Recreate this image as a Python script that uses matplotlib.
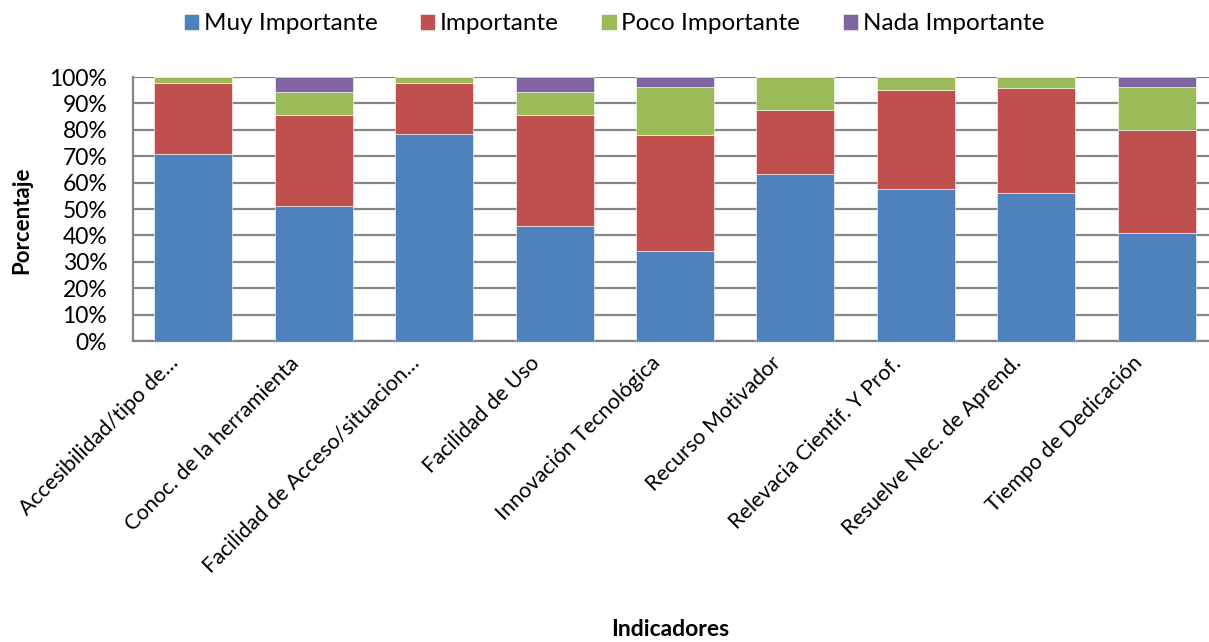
import matplotlib
matplotlib.use("Agg")
import matplotlib.pyplot as plt
import matplotlib.transforms as mtransforms
import numpy as np
from matplotlib.ticker import PercentFormatter

plt.rcParams['font.family'] = ['Lato', 'DejaVu Sans']

categories = [
    "Accesibilidad/tipo de…",
    "Conoc. de la herramienta",
    "Facilidad de Acceso/situacion…",
    "Facilidad de Uso",
    "Innovación Tecnológica",
    "Recurso Motivador",
    "Relevacia Cientif. Y Prof.",
    "Resuelve Nec. de Aprend.",
    "Tiempo de Dedicación",
]

muy_importante = [70.7, 51.0, 78.3, 43.4, 34.2, 63.3, 57.7, 55.9, 40.8]
importante = [27.1, 34.6, 19.5, 42.2, 43.9, 24.3, 37.5, 40.0, 39.2]
poco_importante = [2.2, 8.6, 2.2, 8.6, 18.0, 12.4, 4.8, 4.1, 16.1]
nada_importante = [0.0, 5.8, 0.0, 5.8, 3.9, 0.0, 0.0, 0.0, 3.9]

series = [
    ("Muy Importante", muy_importante, "#4F81BD"),
    ("Importante", importante, "#C0504D"),
    ("Poco Importante", poco_importante, "#9BBB59"),
    ("Nada Importante", nada_importante, "#8064A2"),
]

W, H = 1209, 642
fig = plt.figure(figsize=(W / 100, H / 100), dpi=100)
left, right, bottom, top = 133, 1217, 341, 77
ax = fig.add_axes([left / W, (H - bottom) / H, (right - left) / W, (bottom - top) / H])

x = np.arange(len(categories))
base = np.zeros(len(categories))
for name, vals, color in series:
    vals = np.array(vals)
    ax.bar(x, vals, width=0.647, bottom=base, color=color, label=name,
           edgecolor='white', linewidth=0.4, zorder=3)
    base += vals

ax.set_xlim(-0.5, len(categories) - 0.5)
ax.set_ylim(0, 100)
ax.set_yticks(np.arange(0, 101, 10))
ax.yaxis.set_major_formatter(PercentFormatter(decimals=0))
ax.grid(axis='y', color='#868686', linewidth=1.6, zorder=0)
ax.set_axisbelow(True)
for s in ['top', 'right']:
    ax.spines[s].set_visible(False)
for s in ['left', 'bottom']:
    ax.spines[s].set_color('#868686')
    ax.spines[s].set_linewidth(1.6)

ax.tick_params(axis='y', length=0, pad=18.5, labelsize=16.5)
ax.tick_params(axis='x', length=0, pad=0)
ax.set_xticks(x)
ax.set_xticklabels(categories, rotation=45, ha='right', va='top',
                   rotation_mode='anchor', fontsize=15.5)

# shift the rotated category labels so their top corner sits left of and below each tick
shift = mtransforms.ScaledTranslation(-25 / 100, -12 / 100, fig.dpi_scale_trans)
for lbl in ax.get_xticklabels():
    lbl.set_transform(lbl.get_transform() + shift)

fig.text(22 / W, 1 - 220 / H, "Porcentaje", rotation=90, ha='center', va='center',
         fontsize=16, fontweight='bold')
fig.text(670 / W, 1 - 629 / H, "Indicadores", ha='center', va='center',
         fontsize=16.5, fontweight='bold')

fig.legend(loc='center', bbox_to_anchor=(614 / W, 1 - 24 / H), ncol=4,
           frameon=False, fontsize=17.5, handlelength=0.62, handleheight=0.62,
           handletextpad=0.2, columnspacing=1.75)

fig.savefig("out.png", dpi=100, facecolor='white')
